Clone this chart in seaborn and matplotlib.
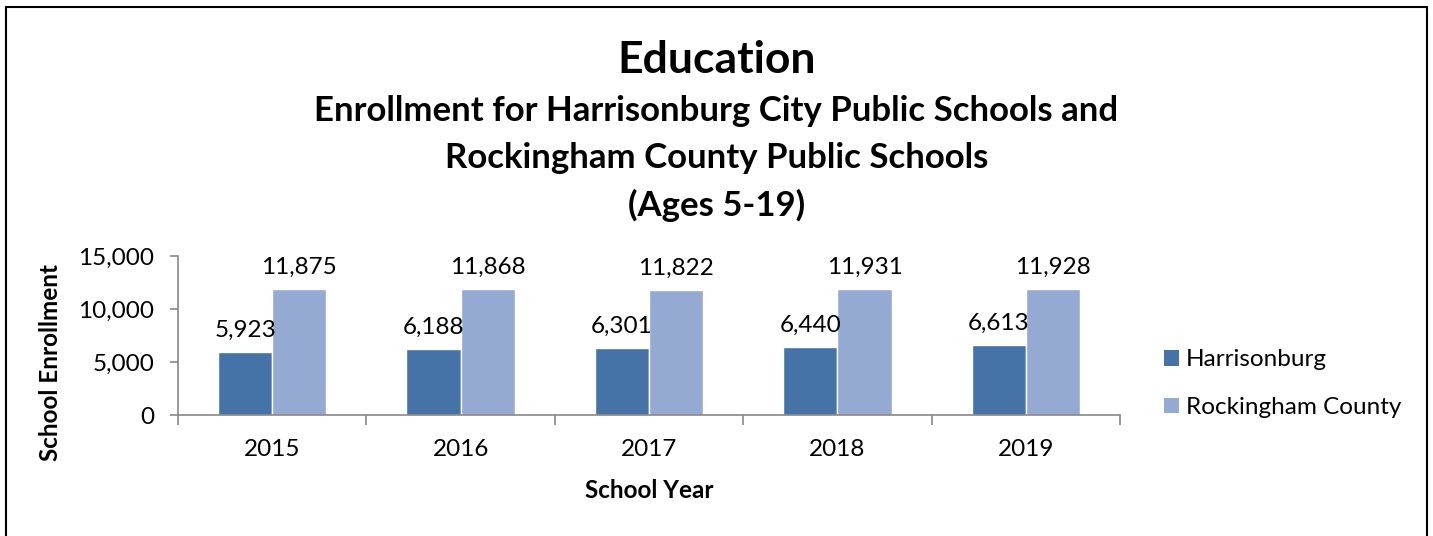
import matplotlib
matplotlib.use("Agg")
import matplotlib.pyplot as plt
import seaborn as sns
import pandas as pd
from matplotlib.ticker import FuncFormatter, FixedLocator
from matplotlib.patches import Patch
from matplotlib.lines import Line2D

years = ["2015", "2016", "2017", "2018", "2019"]
harrisonburg = [5923, 6188, 6301, 6440, 6613]
rockingham = [11875, 11868, 11822, 11931, 11928]
series_names = ["Harrisonburg", "Rockingham County"]
colors = ["#4573A7", "#95AAD2"]

df = pd.DataFrame({
    "year": years * 2,
    "value": harrisonburg + rockingham,
    "series": [series_names[0]] * len(years) + [series_names[1]] * len(years),
})

sns.set_style("white")
plt.rcParams["font.family"] = ["Lato", "DejaVu Sans"]
for k in ["text.color", "axes.labelcolor", "xtick.color", "ytick.color"]:
    plt.rcParams[k] = "black"

FS = 17.5

fig = plt.figure(figsize=(14.33, 5.36), dpi=100)
ax = fig.add_axes([0.1242, 0.2257, 0.6574, 0.2967])

sns.barplot(data=df, x="year", y="value", hue="series", palette=colors,
            width=0.575, gap=0, ax=ax, legend=False, saturation=1)

for cont in ax.containers:
    ax.bar_label(cont, labels=[f"{int(v):,}" for v in cont.datavalues],
                 padding=8, fontsize=FS, color="black")

ax.set_ylim(0, 15000)
ax.set_xlim(-0.5, len(years) - 0.5)
ax.set_yticks([0, 5000, 10000, 15000])
ax.yaxis.set_major_formatter(FuncFormatter(lambda v, p: f"{int(v):,}"))
ax.tick_params(axis="y", labelsize=FS, length=6, width=1.2, color="#888888", direction="out", left=True, pad=11, labelcolor="black")
ax.tick_params(axis="x", which="major", labelsize=FS, length=0, pad=17, labelcolor="black")
ax.xaxis.set_minor_locator(FixedLocator([i - 0.5 for i in range(len(years) + 1)]))
ax.tick_params(axis="x", which="minor", length=7, width=1.2, color="#888888", direction="out", bottom=True)

for s in ["top", "right"]:
    ax.spines[s].set_visible(False)
for s in ["left", "bottom"]:
    ax.spines[s].set_color("#888888")
    ax.spines[s].set_linewidth(1.2)

ax.set_xlabel("School Year", fontsize=FS, fontweight="bold", labelpad=14)
ax.set_ylabel("School Enrollment", fontsize=FS, fontweight="bold")
ax.yaxis.set_label_coords(-0.123, 0.33)

handles = [Patch(facecolor=c, edgecolor="none") for c in colors]
fig.legend(handles, series_names, loc="center left", bbox_to_anchor=(0.797, 0.284),
           frameon=False, fontsize=FS, handlelength=0.6, handleheight=0.6,
           handletextpad=0.3, labelspacing=1.1)

fig.text(0.5, 0.888, "Education", ha="center", va="center", fontsize=32, fontweight="bold")
fig.text(0.5, 0.793, "Enrollment for Harrisonburg City Public Schools and", ha="center", va="center", fontsize=25, fontweight="bold")
fig.text(0.5, 0.705, "Rockingham County Public Schools", ha="center", va="center", fontsize=25, fontweight="bold")
fig.text(0.5, 0.616, "(Ages 5-19)", ha="center", va="center", fontsize=25, fontweight="bold")

# outer border
border = dict(color="black", linewidth=1.5, transform=fig.transFigure)
fig.add_artist(Line2D([0.004, 0.996], [0.987, 0.987], **border))
fig.add_artist(Line2D([0.004, 0.004], [0.0, 0.987], **border))
fig.add_artist(Line2D([0.996, 0.996], [0.0, 0.987], **border))

fig.savefig("out.png", dpi=100)
